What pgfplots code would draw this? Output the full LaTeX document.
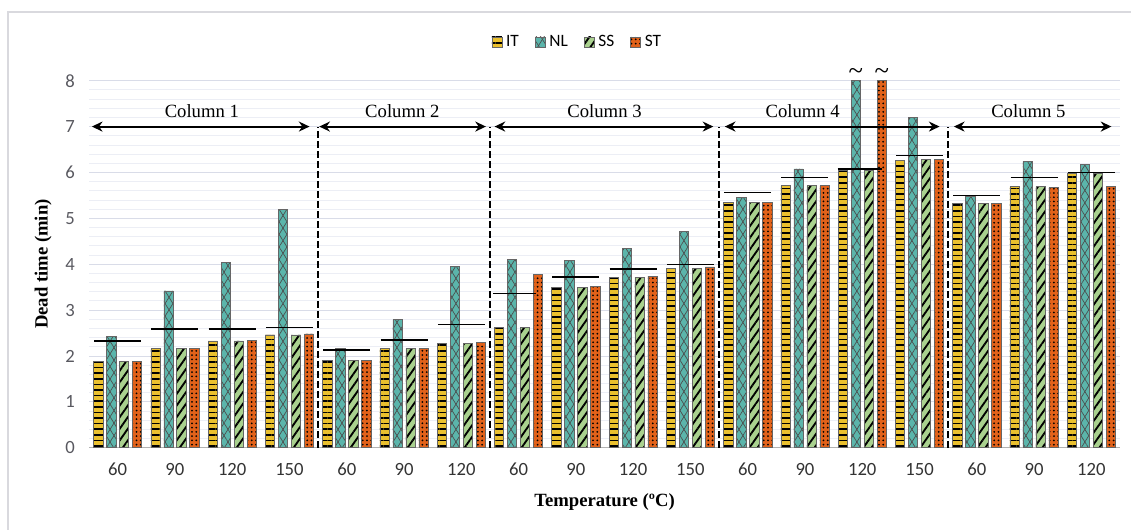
\documentclass[border=0pt]{standalone}
\usepackage{fontspec}
\setmainfont{Liberation Serif}
\newfontfamily\carlito{Carlito}
\usepackage{pgfplots}
\pgfplotsset{compat=1.18}
\usetikzlibrary{patterns.meta,arrows.meta}
\definecolor{itc}{RGB}{234,192,46}
\definecolor{nlc}{RGB}{91,181,171}
\definecolor{ssc}{RGB}{169,209,142}
\definecolor{stc}{RGB}{226,98,26}
\definecolor{gridmaj}{RGB}{217,220,232}
\definecolor{gridmin}{RGB}{236,238,245}
\definecolor{ticklab}{RGB}{89,89,96}
\definecolor{framec}{RGB}{217,217,222}
\pgfplotsset{mylegend/.style={legend image code/.code={\draw[##1] (0pt,-3.75pt) rectangle (7.5pt,3.75pt);}}}
\tikzset{colarrow/.style={line width=1.5pt, {Stealth[length=8pt,width=7.5pt]}-{Stealth[length=8pt,width=7.5pt]}},
  sep/.style={black, line width=1.1pt, dash pattern=on 5pt off 2.5pt}}
\begin{document}
\begin{tikzpicture}
\useasboundingbox (0,0) rectangle (848.25pt,397.5pt);
\draw[framec, line width=0.8pt] (6pt,-2pt) -- (6pt,388.5pt) -- (850pt,388.5pt);
\begin{axis}[
  at={(66.75pt,61.725pt)}, anchor=south west,
  scale only axis, width=773.25pt, height=275.25pt,
  xmin=-0.5, xmax=17.5, ymin=0, ymax=8,
  clip=false,
  axis line style={draw=none},
  major tick length=0pt, minor tick length=0pt,
  xtick={0,...,17},
  xticklabels={60,90,120,150,60,90,120,60,90,120,150,60,90,120,150,60,90,120},
  ytick={0,...,8},
  minor y tick num=4,
  ymajorgrids, yminorgrids,
  major grid style={gridmaj, line width=0.6pt},
  minor grid style={gridmin, line width=0.6pt},
  extra y ticks={0}, extra y tick labels={},
  extra y tick style={major grid style={color=black!30, line width=0.8pt}},
  /pgf/number format/assume math mode=true,
  tick label style={font=\carlito\fontsize{14}{16}\selectfont},
  yticklabel style={text=ticklab, xshift=-7pt},
  xticklabel style={text=black!80, yshift=-8pt},
  xlabel={Temperature (ºC)},
  ylabel={Dead time (min)},
  every axis x label/.style={at={(axis description cs:0.5,-0.147)}, anchor=center,
    font=\bfseries\fontsize{14}{16}\selectfont},
  every axis y label/.style={at={(axis description cs:-0.0446,0.5)}, anchor=center, rotate=90,
    font=\bfseries\fontsize{14}{16}\selectfont},
  legend style={at={(0.474,1.1055)}, anchor=center, draw=none, fill=none,
    font=\carlito\fontsize{13}{15}\selectfont,
    /tikz/every odd column/.append style={column sep=1pt},
    /tikz/every even column/.append style={column sep=10pt}},
  legend columns=4,
]
\addplot[ybar, bar width=0.162, bar shift=-0.340, mylegend, fill=itc, draw=black!60, line width=0.4pt,
  postaction={pattern={Lines[angle=0,distance=4.2pt,line width=1.3pt]}, pattern color=black}]
 coordinates {(0,1.875) (1,2.16) (2,2.33) (3,2.46) (4,1.90) (5,2.16) (6,2.27) (7,2.62) (8,3.49) (9,3.72) (10,3.91) (11,5.35) (12,5.71) (13,6.05) (14,6.26) (15,5.33) (16,5.69) (17,5.98)};
\addlegendentry{IT}
\addplot[ybar, bar width=0.162, bar shift=-0.113, mylegend, fill=nlc, draw=black!60, line width=0.4pt,
  postaction={pattern={Lines[angle=58,distance=5pt,line width=0.5pt]}, pattern color=black!70},
  postaction={pattern={Lines[angle=-58,distance=5pt,line width=0.5pt]}, pattern color=black!70}]
 coordinates {(0,2.43) (1,3.42) (2,4.04) (3,5.20) (4,2.16) (5,2.79) (6,3.95) (7,4.10) (8,4.08) (9,4.34) (10,4.72) (11,5.45) (12,6.08) (13,8.0) (14,7.20) (15,5.48) (16,6.24) (17,6.17)};
\addlegendentry{NL}
\addplot[ybar, bar width=0.162, bar shift=0.113, mylegend, fill=ssc, draw=black!60, line width=0.4pt,
  postaction={pattern={Lines[angle=55,distance=5pt,line width=1.4pt]}, pattern color=black}]
 coordinates {(0,1.875) (1,2.16) (2,2.33) (3,2.46) (4,1.90) (5,2.16) (6,2.27) (7,2.62) (8,3.49) (9,3.72) (10,3.91) (11,5.35) (12,5.71) (13,6.05) (14,6.29) (15,5.33) (16,5.69) (17,5.98)};
\addlegendentry{SS}
\addplot[ybar, bar width=0.162, bar shift=0.340, mylegend, fill=stc, draw=black!60, line width=0.4pt,
  postaction={pattern={Dots[distance=3.2pt,radius=0.75pt]}, pattern color=black}]
 coordinates {(0,1.875) (1,2.16) (2,2.34) (3,2.48) (4,1.90) (5,2.16) (6,2.30) (7,3.78) (8,3.52) (9,3.74) (10,3.94) (11,5.35) (12,5.71) (13,8.0) (14,6.29) (15,5.33) (16,5.67) (17,5.69)};
\addlegendentry{ST}
% average lines
\addplot[black, line width=1.1pt, forget plot, unbounded coords=jump] coordinates {
 (-0.41,2.33) (0.41,2.33) (0.5,nan)
 (0.59,2.59) (1.41,2.59) (1.5,nan)
 (1.59,2.59) (2.41,2.59) (2.5,nan)
 (2.59,2.62) (3.41,2.62) (3.5,nan)
 (3.59,2.13) (4.41,2.13) (4.5,nan)
 (4.59,2.35) (5.41,2.35) (5.5,nan)
 (5.59,2.69) (6.41,2.69) (6.5,nan)
 (6.55,3.36) (7.30,3.36) (7.5,nan)
 (7.59,3.72) (8.41,3.72) (8.5,nan)
 (8.59,3.90) (9.41,3.90) (9.5,nan)
 (9.59,3.99) (10.41,3.99) (10.5,nan)
 (10.59,5.56) (11.41,5.56) (11.5,nan)
 (11.59,5.89) (12.41,5.89) (12.5,nan)
 (12.57,6.08) (13.34,6.08) (13.5,nan)
 (13.59,6.37) (14.41,6.37) (14.5,nan)
 (14.59,5.50) (15.41,5.50) (15.5,nan)
 (15.59,5.89) (16.41,5.89) (16.5,nan)
 (16.59,6.00) (17.41,6.00)
};
% separators
\draw[sep] (3.5,0) -- (3.5,7);
\draw[sep] (6.5,0) -- (6.5,7);
\draw[sep] (10.5,0) -- (10.5,7);
\draw[sep] (14.5,0) -- (14.5,7);
% arrows
\draw[colarrow] (-0.45,7) -- (3.35,7);
\draw[colarrow] (3.52,7) -- (6.43,7);
\draw[colarrow] (6.58,7) -- (10.40,7);
\draw[colarrow] (10.60,7) -- (14.35,7);
\draw[colarrow] (14.60,7) -- (17.35,7);
\node[font=\fontsize{14}{16}\selectfont] at (1.47,7.33) {Column 1};
\node[font=\fontsize{14}{16}\selectfont] at (4.97,7.33) {Column 2};
\node[font=\fontsize{14}{16}\selectfont] at (8.50,7.33) {Column 3};
\node[font=\fontsize{14}{16}\selectfont] at (11.96,7.33) {Column 4};
\node[font=\fontsize{14}{16}\selectfont] at (15.90,7.33) {Column 5};
% tildes
\node[font=\fontsize{20}{20}\selectfont, inner sep=0pt, anchor=center, yshift=5pt] at (12.887,8) {\textasciitilde};
\node[font=\fontsize{20}{20}\selectfont, inner sep=0pt, anchor=center, yshift=5pt] at (13.340,8) {\textasciitilde};
\end{axis}
\end{tikzpicture}
\end{document}
